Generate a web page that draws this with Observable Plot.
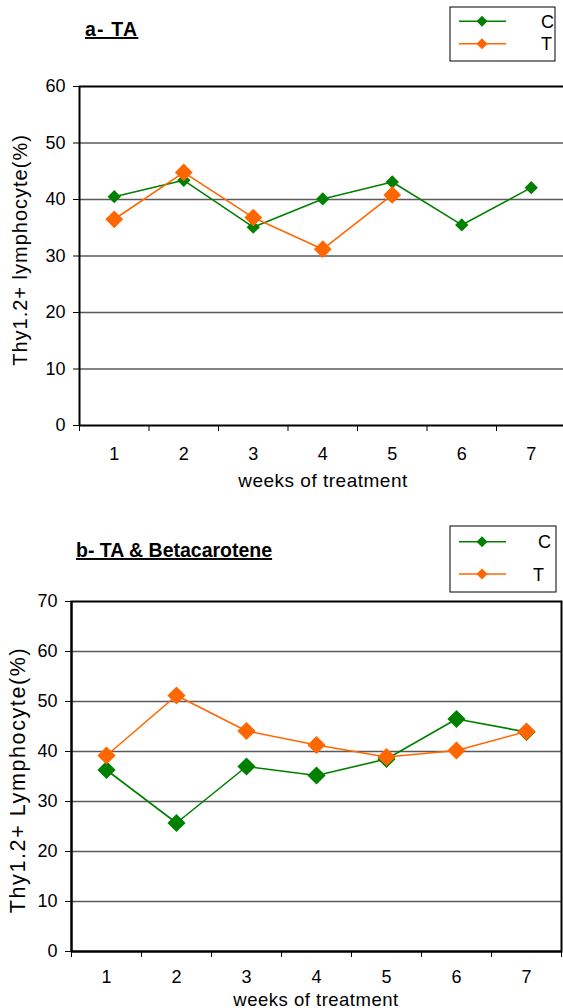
<!DOCTYPE html>
<html>
<head>
<meta charset="utf-8">
<script src="https://cdn.jsdelivr.net/npm/d3@7"></script>
<script src="https://cdn.jsdelivr.net/npm/@observablehq/plot@0.6"></script>
<style>
  body { margin: 0; background: #fff; font-family: "Liberation Sans", Arial, sans-serif; }
  #wrap { position: relative; width: 563px; height: 1008px; overflow: hidden; background: #fff; }
  #wrap > svg.plot { position: absolute; left: 0; }
  #overlay { position: absolute; left: 0; top: 0; pointer-events: none; }
  .ttl { font-family: "Liberation Sans", Arial, sans-serif; font-weight: bold; font-size: 19.5px;
         text-decoration: underline; text-decoration-thickness: 2px; text-underline-offset: 2px; }
  .leg { font-family: "Liberation Sans", Arial, sans-serif; font-size: 18px; }
  .axl { font-family: "Liberation Sans", Arial, sans-serif; font-size: 19px; letter-spacing: 0.5px; }
  .ayl { font-family: "Liberation Sans", Arial, sans-serif; font-size: 20px; letter-spacing: 1px; }
</style>
</head>
<body>
<div id="wrap">
  <svg id="overlay" width="563" height="1008">
    <text class="ttl" x="85" y="36" style="letter-spacing:1.2px">a- TA</text>
    <text class="ttl" x="76" y="557">b- TA &amp; Betacarotene</text>
    <g id="labels"></g>
    <g id="legA"></g>
    <g id="legB"></g>
  </svg>
</div>
<script>
// ---- data ----
const weeks = [1, 2, 3, 4, 5, 6, 7];
const seriesNames = ["C", "T"];
const seriesColors = ["#008000", "#FF6600"];

const taC = [40.5, 43.4, 35.1, 40.1, 43.1, 35.5, 42.1];
const taT = [36.5, 44.8, 36.8, 31.2, 40.8];

const betaC = [36.3, 25.7, 37.0, 35.2, 38.5, 46.5, 43.9];
const betaT = [39.2, 51.2, 44.1, 41.3, 38.9, 40.2, 44.0];

const yTicksA = [0, 10, 20, 30, 40, 50, 60];
const yTicksB = [0, 10, 20, 30, 40, 50, 60, 70];

const yLabelA = "Thy1.2+ lymphocyte(%)";
const yLabelB = "Thy1.2+ Lymphocyte(%)";
const xLabel = "weeks of treatment";

function rows(vals, name) {
  return vals.map((v, i) => ({ week: weeks[i], value: v, series: name }));
}

function chart(opts) {
  const { C, T, yTicks, height, marginTop, marginBottom, marginLeft, marginRight,
          xRange, rC, rT, fullFrame, xPad } = opts;
  const ymax = yTicks[yTicks.length - 1];
  const edges = weeks.map(w => w - 0.5).concat([weeks[weeks.length - 1] + 0.5]);
  const dC = rows(C, seriesNames[0]);
  const dT = rows(T, seriesNames[1]);
  const x = { type: "linear", domain: [edges[0], edges[edges.length - 1]] };
  if (xRange) x.range = xRange;
  const marks = [
    Plot.ruleY(yTicks.slice(1, -1), { stroke: "#5a5a5a", strokeWidth: 1.5 }),
    fullFrame ? Plot.frame({ stroke: "#000", strokeWidth: 2 })
              : Plot.ruleY([ymax], { stroke: "#000", strokeWidth: 2 }),
    Plot.axisY({ ticks: yTicks, tickSize: 6, tickPadding: 8, tickFormat: d => String(d), label: null }),
    Plot.axisX({ ticks: edges, tickSize: 6, tickFormat: () => "", label: null }),
    Plot.axisX({ ticks: weeks, tickSize: 0, tickPadding: xPad, tickFormat: d => String(d), label: null }),
    Plot.ruleX([edges[0]], { stroke: "#000", strokeWidth: 2 }),
    Plot.ruleY([0], { stroke: "#000", strokeWidth: 2 }),
    Plot.line(dC, { x: "week", y: "value", stroke: seriesColors[0], strokeWidth: 1.6 }),
    Plot.dot(dC, { x: "week", y: "value", symbol: "diamond2", fill: seriesColors[0], r: rC }),
    Plot.line(dT, { x: "week", y: "value", stroke: seriesColors[1], strokeWidth: 1.6 }),
    Plot.dot(dT, { x: "week", y: "value", symbol: "diamond2", fill: seriesColors[1], r: rT })
  ];
  return Plot.plot({
    width: 563, height, marginTop, marginBottom, marginLeft, marginRight,
    style: { fontFamily: '"Liberation Sans", Arial, sans-serif', fontSize: "18px",
             color: "#000", background: "transparent", overflow: "visible" },
    x, y: { domain: [0, ymax] },
    marks
  });
}

const wrap = document.getElementById("wrap");
const overlay = document.getElementById("overlay");

const svgA = chart({
  C: taC, T: taT, yTicks: yTicksA,
  height: 500, marginTop: 86, marginBottom: 75, marginLeft: 79, marginRight: 0,
  xRange: [79, 565.5], rC: 6, rT: 8, fullFrame: false, xPad: 22
});
svgA.classList.add("plot");
svgA.style.top = "0px";
wrap.insertBefore(svgA, overlay);

const svgB = chart({
  C: betaC, T: betaT, yTicks: yTicksB,
  height: 508, marginTop: 101, marginBottom: 57, marginLeft: 71, marginRight: 2,
  xRange: null, rC: 8.2, rT: 8.2, fullFrame: true, xPad: 19
});
svgB.classList.add("plot");
svgB.style.top = "500px";
wrap.insertBefore(svgB, overlay);

// ---- axis titles ----
const lab = d3.select("#labels");
[[xLabel, 323, 487, 19], [xLabel, 316, 1005.5, 18.5]].forEach(([t, x, y, fs]) =>
  lab.append("text").attr("class", "axl").attr("x", x).attr("y", y).attr("text-anchor", "middle")
    .style("font-size", fs + "px").text(t));
[[yLabelA, 27, 250, 20, 1], [yLabelB, 25, 780, 21.5, 1.6]].forEach(([t, x, y, fs, ls]) =>
  lab.append("text").attr("class", "ayl").attr("text-anchor", "middle")
    .style("font-size", fs + "px").style("letter-spacing", ls + "px")
    .attr("transform", `translate(${x},${y}) rotate(-90)`).text(t));

// ---- legends ----
function legend(sel, box, rowsY, textX, half) {
  const g = d3.select(sel);
  g.append("rect").attr("x", box[0]).attr("y", box[1]).attr("width", box[2]).attr("height", box[3])
    .attr("fill", "#fff").attr("stroke", "#000").attr("stroke-width", 1);
  seriesNames.forEach((name, i) => {
    const y = rowsY[i];
    g.append("line").attr("x1", box[0] + 9).attr("x2", box[0] + 56).attr("y1", y).attr("y2", y)
      .attr("stroke", seriesColors[i]).attr("stroke-width", 1.6);
    const cx = box[0] + 32;
    g.append("path").attr("d", `M${cx},${y - half}L${cx + half},${y}L${cx},${y + half}L${cx - half},${y}Z`)
      .attr("fill", seriesColors[i]);
    g.append("text").attr("class", "leg").attr("x", textX[i]).attr("y", y + 6.5).text(name);
  });
}
legend("#legA", [450, 7, 105, 54], [21.3, 43.7], [541, 541], 5.5);
legend("#legB", [450, 526, 106, 66], [541.7, 574], [538, 533], 5.5);
</script>
</body>
</html>
